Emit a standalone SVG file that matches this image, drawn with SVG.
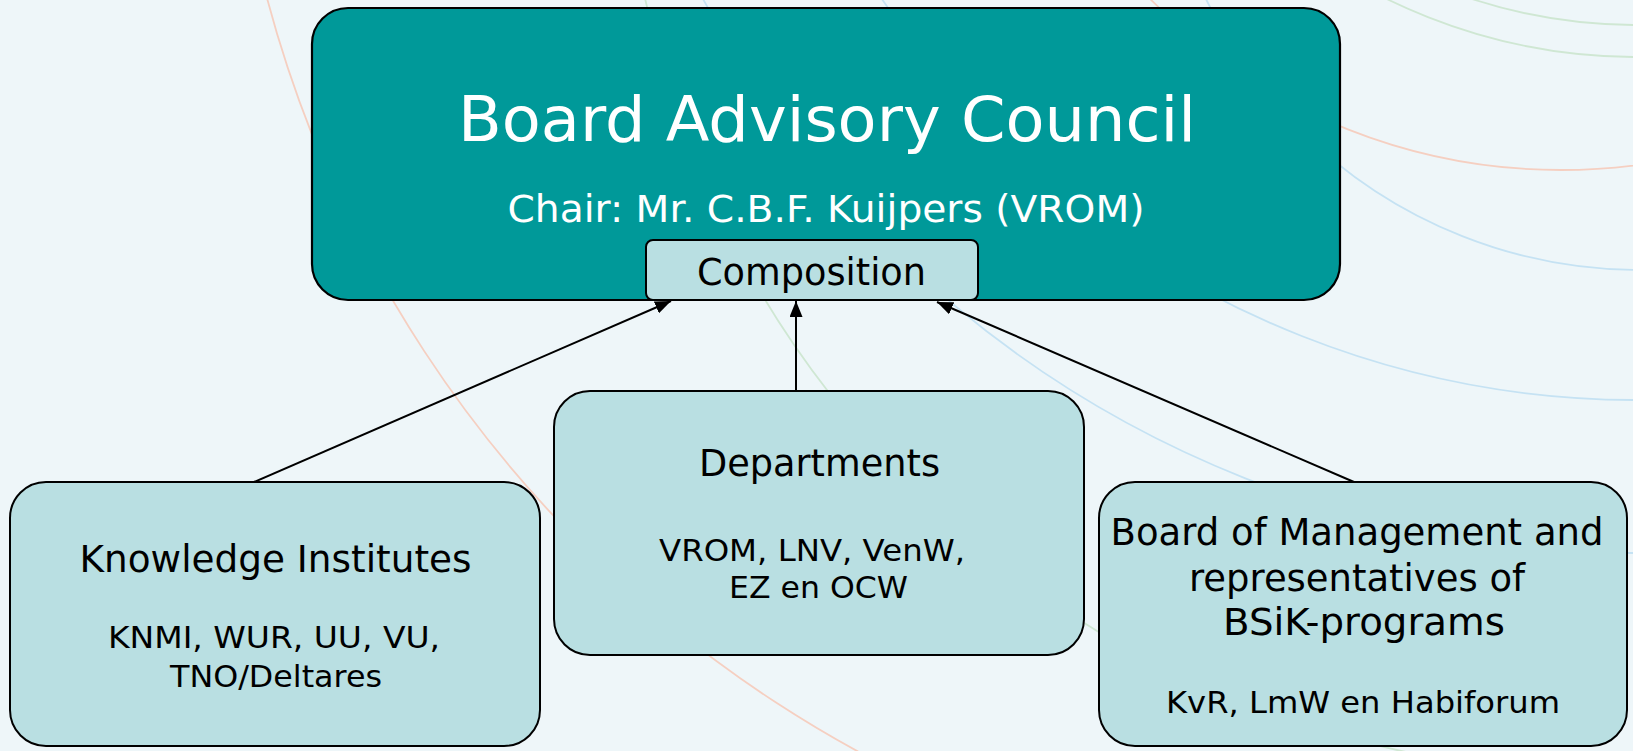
<svg xmlns="http://www.w3.org/2000/svg" width="1633" height="751" viewBox="0 0 1633 751">
<defs>
<style>
.bg{fill:#eef6f9}
.arc{fill:none;stroke-width:1.8}
.o{stroke:#f5cfc1}
.g{stroke:#cfe7d3}
.b{stroke:#c5e2f3}
.main{fill:#009999;stroke:#000;stroke-width:2.2}
.lite{fill:#b9dfe2;stroke:#000;stroke-width:2}
.t{font-family:"DejaVu Sans",Verdana,sans-serif;text-anchor:middle}
.w{fill:#fff}
.k{fill:#000}
.conn{stroke:#000;stroke-width:2;fill:none;marker-end:url(#ah)}
</style>
<marker id="ah" markerUnits="userSpaceOnUse" markerWidth="16" markerHeight="13" refX="16" refY="6.5" orient="auto">
<path d="M0,0 L16,6.5 L0,13 z" fill="#000"/>
</marker>
</defs>
<rect class="bg" x="0" y="0" width="1633" height="751"/>
<g id="background-arcs">
<circle class="arc o" cx="1437" cy="-311" r="1210"/>
<circle class="arc o" cx="1561" cy="-409" r="579"/>
<circle class="arc b" cx="1640" cy="-213" r="483"/>
<circle class="arc b" cx="1637" cy="-511" r="911"/>
<circle class="arc b" cx="1637" cy="-511" r="1064"/>
<circle class="arc g" cx="1637" cy="-511" r="568"/>
<circle class="arc g" cx="1637" cy="-511" r="536"/>
<circle class="arc g" cx="1604" cy="-209" r="981"/>
</g>
<g id="connectors">
<line class="conn" x1="254" y1="482" x2="671" y2="301"/>
<line class="conn" x1="796" y1="391" x2="796" y2="301"/>
<line class="conn" x1="1354" y1="482" x2="937" y2="302"/>
</g>
<g id="board-advisory-council">
<rect class="main" x="312" y="8" width="1028" height="292" rx="36" ry="36"/>
<text class="t w" x="827" y="141" font-size="63" textLength="738" lengthAdjust="spacingAndGlyphs">Board Advisory Council</text>
<text class="t w" x="826" y="222" font-size="37" textLength="637" lengthAdjust="spacingAndGlyphs">Chair: Mr. C.B.F. Kuijpers (VROM)</text>
</g>
<g id="composition">
<rect class="lite" x="646" y="240" width="332" height="60" rx="7" ry="7"/>
<text class="t k" x="811.5" y="285" font-size="36.5" textLength="229" lengthAdjust="spacingAndGlyphs">Composition</text>
</g>
<g id="knowledge-institutes">
<rect class="lite" x="10" y="482" width="530" height="264" rx="36" ry="36"/>
<text class="t k" x="275.5" y="572" font-size="36.5" textLength="392" lengthAdjust="spacingAndGlyphs">Knowledge Institutes</text>
<text class="t k" x="274" y="648" font-size="30.5" textLength="332" lengthAdjust="spacingAndGlyphs">KNMI, WUR, UU, VU,</text>
<text class="t k" x="276" y="687" font-size="30.5" textLength="212" lengthAdjust="spacingAndGlyphs">TNO/Deltares</text>
</g>
<g id="departments">
<rect class="lite" x="554" y="391" width="530" height="264" rx="36" ry="36"/>
<text class="t k" x="819.5" y="476" font-size="36.5" textLength="241" lengthAdjust="spacingAndGlyphs">Departments</text>
<text class="t k" x="812" y="561" font-size="30.5" textLength="306" lengthAdjust="spacingAndGlyphs">VROM, LNV, VenW,</text>
<text class="t k" x="818.5" y="598" font-size="30.5" textLength="179" lengthAdjust="spacingAndGlyphs">EZ en OCW</text>
</g>
<g id="board-of-management">
<rect class="lite" x="1099" y="482" width="528" height="264" rx="36" ry="36"/>
<text class="t k" x="1357" y="545" font-size="36.5" textLength="493" lengthAdjust="spacingAndGlyphs">Board of Management and</text>
<text class="t k" x="1357" y="591" font-size="36.5" textLength="336" lengthAdjust="spacingAndGlyphs">representatives of</text>
<text class="t k" x="1364" y="635" font-size="36.5" textLength="282" lengthAdjust="spacingAndGlyphs">BSiK-programs</text>
<text class="t k" x="1363" y="713" font-size="30.5" textLength="394" lengthAdjust="spacingAndGlyphs">KvR, LmW en Habiforum</text>
</g>
</svg>
